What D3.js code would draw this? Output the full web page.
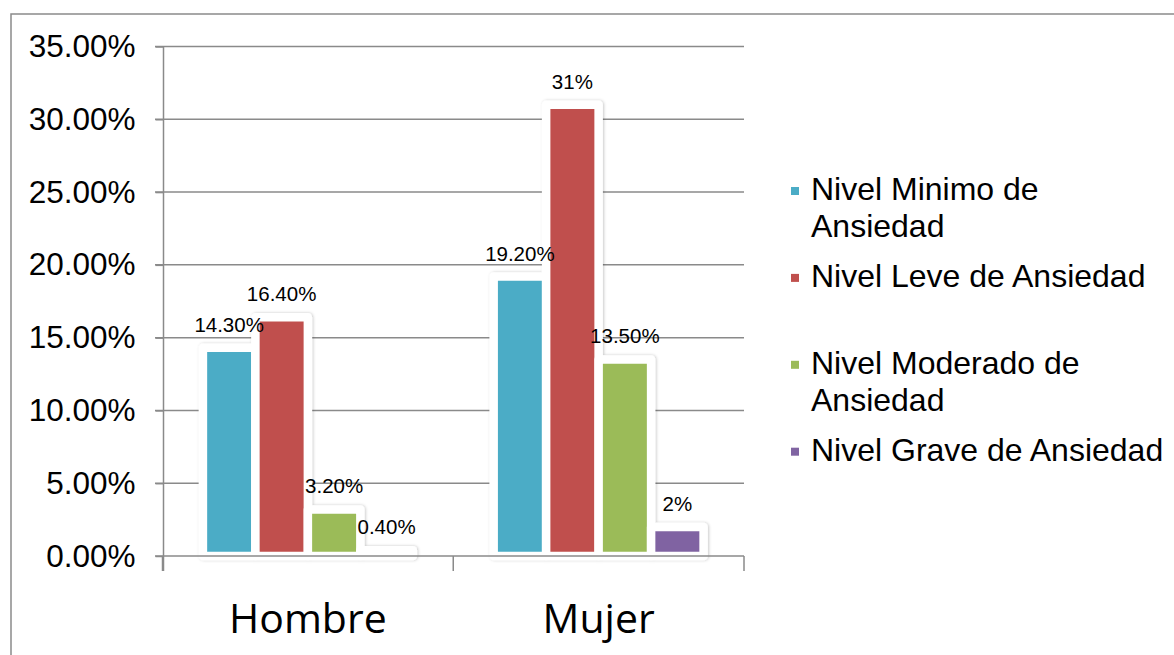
<!DOCTYPE html>
<html>
<head>
<meta charset="utf-8">
<script src="https://cdn.jsdelivr.net/npm/d3@7"></script>
<style>
  body { margin: 0; background: #fff; }
  svg { display: block; }
</style>
</head>
<body>
<svg id="chart" width="1174" height="655"></svg>
<script>
/* global d3 */

// data
var categories = ['Hombre', 'Mujer'];
var seriesNames = [
  'Nivel Minimo de Ansiedad',
  'Nivel Leve de Ansiedad',
  'Nivel Moderado de Ansiedad',
  'Nivel Grave de Ansiedad'
];
var seriesColors = ['#4BACC6', '#C0504D', '#9BBB59', '#8064A2'];
var hombreValues = [0.143, 0.164, 0.032, 0.004];
var mujerValues  = [0.192, 0.31, 0.135, 0.02];
var hombreLabels = ['14.30%', '16.40%', '3.20%', '0.40%'];
var mujerLabels  = ['19.20%', '31%', '13.50%', '2%'];
var yTicks = [0, 0.05, 0.10, 0.15, 0.20, 0.25, 0.30, 0.35];

var valuesByCat = { Hombre: hombreValues, Mujer: mujerValues };
var labelsByCat = { Hombre: hombreLabels, Mujer: mujerLabels };

var bars = [];
categories.forEach(function (cat) {
  seriesNames.forEach(function (s, i) {
    bars.push({ cat: cat, series: s, idx: i,
                value: valuesByCat[cat][i], label: labelsByCat[cat][i] });
  });
});

var svg = d3.select('svg#chart');
var gridColor = '#8a8a8a';

// outer frame (runs off the right and bottom edge)
svg.append('rect')
  .attr('x', 11).attr('y', 14)
  .attr('width', 1300).attr('height', 800)
  .attr('fill', 'none')
  .attr('stroke', gridColor)
  .attr('stroke-width', 1.5);

var x0 = d3.scaleBand().domain(categories).range([162.5, 744]).padding(0);
var x1 = d3.scaleBand().domain(seriesNames).range([0, x0.bandwidth()])
  .paddingInner(0).paddingOuter(0.77);
var y = d3.scaleLinear().domain([0, 0.35]).range([556, 46.5]);

// shadow for the white bar frames
var defs = svg.append('defs');
var f = defs.append('filter').attr('id', 'shadow')
  .attr('x', '-20%').attr('y', '-20%').attr('width', '140%').attr('height', '140%');
f.append('feDropShadow')
  .attr('dx', 1).attr('dy', 0).attr('stdDeviation', 1.5)
  .attr('flood-color', '#000').attr('flood-opacity', 0.22);

// gridlines
svg.append('g').classed('grid', true)
  .selectAll('line').data(yTicks.slice(1))
  .enter().append('line')
    .attr('x1', 155).attr('x2', 744)
    .attr('y1', function (d) { return y(d); })
    .attr('y2', function (d) { return y(d); })
    .attr('stroke', gridColor).attr('stroke-width', 1.5);

// bars: white framed, coloured inside
var barG = svg.append('g').classed('bars', true).attr('filter', 'url(#shadow)');
barG.selectAll('rect').data(bars)
  .enter().append('rect')
    .attr('x', function (d) { return x0(d.cat) + x1(d.series); })
    .attr('y', function (d) { return y(d.value); })
    .attr('width', x1.bandwidth())
    .attr('height', function (d) { return y(0) - y(d.value); })
    .attr('fill', function (d) { return seriesColors[d.idx]; })
    .attr('stroke', '#fff')
    .attr('stroke-width', 8.5)
    .attr('stroke-linejoin', 'round');

// y axis
var yAxis = d3.axisLeft(y)
  .tickValues(yTicks)
  .tickFormat(d3.format('.2%'))
  .tickSize(8)
  .tickPadding(20);

var yG = svg.append('g').attr('transform', 'translate(163.5,0)').call(yAxis);
yG.select('.domain').remove();
yG.selectAll('.tick line').attr('stroke', gridColor).attr('stroke-width', 1.5);
yG.selectAll('.tick text')
  .attr('font-family', 'Liberation Sans, Arial, sans-serif')
  .attr('font-size', 31.5)
  .attr('fill', '#000');
svg.append('line')
  .attr('x1', 163.5).attr('x2', 163.5)
  .attr('y1', y(0.35)).attr('y2', 571)
  .attr('stroke', gridColor).attr('stroke-width', 1.5);

// x axis baseline and group separators
svg.append('line')
  .attr('x1', 155).attr('x2', 744)
  .attr('y1', y(0)).attr('y2', y(0))
  .attr('stroke', gridColor).attr('stroke-width', 1.5);
var edges = categories.map(function (c) { return x0(c); }).concat([x0.range()[1]]);
svg.append('g').selectAll('line').data(edges)
  .enter().append('line')
    .attr('x1', function (d) { return d; }).attr('x2', function (d) { return d; })
    .attr('y1', y(0)).attr('y2', 571)
    .attr('stroke', gridColor).attr('stroke-width', 1.5);

var xAxis = d3.axisBottom(x0).tickSize(0).tickPadding(0);
var xG = svg.append('g').attr('transform', 'translate(0,633)').call(xAxis);
xG.select('.domain').remove();
xG.selectAll('.tick text')
  .attr('dy', 0)
  .attr('font-family', 'Open Sans, Lato, sans-serif')
  .attr('font-size', 41)
  .attr('fill', '#000');

// value labels
svg.append('g').classed('labels', true)
  .selectAll('text').data(bars)
  .enter().append('text')
    .attr('x', function (d) { return x0(d.cat) + x1(d.series) + x1.bandwidth() / 2; })
    .attr('y', function (d) { return y(d.value) - 16; })
    .attr('text-anchor', 'middle')
    .attr('font-family', 'Liberation Sans, Arial, sans-serif')
    .attr('font-size', 20.5)
    .attr('fill', '#000')
    .text(function (d) { return d.label; });

// legend
var legend = svg.append('g').classed('legend', true);
var entries = legend.selectAll('g').data(seriesNames)
  .enter().append('g')
    .attr('transform', function (d, i) { return 'translate(811,' + (200 + i * 86.9) + ')'; });

entries.append('rect')
  .attr('x', -20).attr('y', -13)
  .attr('width', 8).attr('height', 8)
  .attr('fill', function (d, i) { return seriesColors[i]; });

entries.append('text')
  .attr('font-family', 'Liberation Sans, Arial, sans-serif')
  .attr('font-size', 32)
  .attr('fill', '#000')
  .each(function (d) {
    var text = d3.select(this);
    var words = d.split(' ');
    var line = [];
    var lineNo = 0;
    var tspan = text.append('tspan').attr('x', 0).attr('y', 0);
    words.forEach(function (w) {
      line.push(w);
      tspan.text(line.join(' '));
      if (tspan.node().getComputedTextLength() > 362 && line.length > 1) {
        line.pop();
        tspan.text(line.join(' '));
        line = [w];
        lineNo += 1;
        tspan = text.append('tspan').attr('x', 0).attr('y', lineNo * 37.3).text(w);
      }
    });
  });
</script>
</body>
</html>
